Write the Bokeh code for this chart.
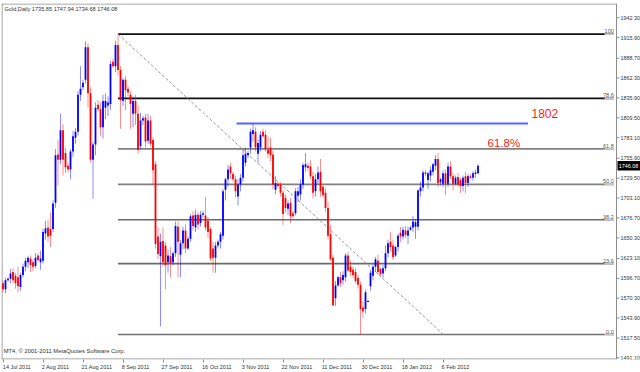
from bokeh.plotting import figure
from bokeh.models import Range1d, FixedTicker, CustomJSTickFormatter
from bokeh.core.properties import value
from bokeh.embed import file_html
from bokeh.resources import INLINE

# ---------------- data ----------------
opens = [
    1590, 1582, 1594, 1596, 1605, 1600, 1598, 1585, 1601, 1612,
    1618, 1623, 1618, 1613, 1627, 1618, 1620, 1656, 1664, 1662,
    1662, 1697, 1761, 1754, 1793, 1763, 1746, 1741, 1765, 1783,
    1791, 1840, 1850, 1860, 1903, 1842, 1754, 1774, 1827, 1821,
    1797, 1823, 1826, 1828, 1884, 1878, 1906, 1873, 1832, 1860,
    1848, 1840, 1815, 1832, 1815, 1772, 1806, 1810, 1779, 1806,
    1780, 1748, 1652, 1626, 1646, 1640, 1618, 1626, 1618, 1630,
    1665, 1628, 1643, 1660, 1636, 1649, 1680, 1664, 1681, 1670,
    1681, 1680, 1673, 1662, 1636, 1624, 1640, 1645, 1653, 1714,
    1728, 1745, 1735, 1728, 1705, 1721, 1730, 1750, 1760, 1770,
    1788, 1791, 1762, 1770, 1791, 1787, 1767, 1770, 1761, 1714,
    1722, 1721, 1710, 1703, 1689, 1697, 1683, 1683, 1706, 1708,
    1721, 1744, 1746, 1745, 1732, 1712, 1728, 1738, 1718, 1710,
    1690, 1655, 1624, 1570, 1587, 1598, 1594, 1598, 1627, 1612,
    1608, 1605, 1597, 1588, 1558, 1556, 1566, 1586, 1600, 1612,
    1620, 1609, 1603, 1610, 1630, 1645, 1640, 1627, 1638, 1657,
    1652, 1660, 1653, 1661, 1664, 1665, 1665, 1712, 1717, 1737,
    1727, 1733, 1738, 1746, 1755, 1724, 1722, 1736, 1722, 1745,
    1732, 1722, 1731, 1727, 1719, 1732, 1723, 1732, 1730, 1735,
    1735.85,
]
highs = [
    1594, 1597, 1598, 1609, 1610, 1604, 1612, 1604, 1616, 1624,
    1626, 1627, 1622, 1630, 1630, 1633, 1662, 1673, 1674, 1684,
    1700, 1768, 1780, 1815, 1801, 1770, 1750, 1768, 1792, 1796,
    1845, 1878, 1860, 1911, 1908, 1850, 1778, 1830, 1833, 1830,
    1840, 1842, 1838, 1885, 1888, 1912, 1920.6, 1878, 1862, 1865,
    1852, 1845, 1838, 1840, 1826, 1816, 1812, 1815, 1815, 1812,
    1784, 1752, 1664, 1656, 1664, 1645, 1635, 1638, 1632, 1672,
    1672, 1648, 1665, 1668, 1652, 1682, 1686, 1688, 1685, 1686,
    1686, 1705, 1678, 1665, 1645, 1645, 1648, 1658, 1715, 1730,
    1747, 1750, 1738, 1733, 1728, 1735, 1768, 1770, 1766, 1795,
    1802, 1797, 1781, 1792, 1795, 1793, 1785, 1783, 1766, 1732,
    1724, 1724, 1714, 1708, 1700, 1703, 1686, 1716, 1718, 1728,
    1750, 1763, 1750, 1753, 1738, 1735, 1745, 1755, 1720, 1716,
    1698, 1667, 1628, 1593, 1600, 1605, 1606, 1630, 1632, 1620,
    1612, 1610, 1601, 1592, 1566, 1582, 1567, 1608, 1615, 1625,
    1628, 1611, 1614, 1640, 1648, 1658, 1648, 1640, 1656, 1665,
    1665, 1666, 1665, 1666, 1679, 1675, 1715, 1725, 1740, 1740,
    1738, 1745, 1750, 1760, 1763, 1730, 1740, 1741, 1750, 1752,
    1736, 1733, 1736, 1730, 1733, 1738, 1735, 1735, 1739, 1741,
    1747.94,
]
lows = [
    1578, 1577, 1592, 1590, 1590, 1583, 1578, 1580, 1598, 1606,
    1610, 1605, 1606, 1610, 1619, 1608, 1616, 1648, 1645, 1638,
    1658, 1690, 1720, 1748, 1733, 1736, 1737, 1728, 1758, 1775,
    1786, 1832, 1846, 1855, 1823, 1750, 1702, 1760, 1818, 1785,
    1782, 1808, 1812, 1820, 1876, 1870, 1866, 1795, 1825, 1820,
    1838, 1795, 1797, 1800, 1762, 1768, 1800, 1770, 1775, 1772,
    1721, 1636, 1622, 1533, 1612, 1582, 1604, 1598, 1614, 1625,
    1598, 1598, 1635, 1630, 1634, 1645, 1660, 1658, 1662, 1665,
    1677, 1660, 1650, 1620, 1604, 1604, 1637, 1636, 1648, 1700,
    1718, 1728, 1725, 1704, 1693, 1712, 1725, 1745, 1756, 1762,
    1778, 1765, 1750, 1765, 1783, 1765, 1756, 1752, 1715, 1708,
    1717, 1705, 1667, 1684, 1681, 1670, 1677, 1680, 1698, 1700,
    1715, 1738, 1740, 1728, 1703, 1705, 1722, 1705, 1704, 1685,
    1648, 1620, 1560, 1560, 1585, 1585, 1588, 1592, 1605, 1600,
    1598, 1590, 1583, 1522, 1545, 1550, 1565, 1580, 1594, 1605,
    1601, 1600, 1597, 1606, 1624, 1632, 1621, 1625, 1632, 1645,
    1648, 1650, 1642, 1660, 1658, 1649, 1660, 1705, 1712, 1732,
    1715, 1725, 1733, 1740, 1718, 1720, 1718, 1707, 1718, 1728,
    1713, 1720, 1718, 1710, 1712, 1710, 1718, 1728, 1726, 1730,
    1734.68,
]
closes = [
    1582, 1594, 1596, 1603, 1594, 1590, 1586, 1601, 1612, 1620,
    1624, 1614, 1612, 1624, 1621, 1623, 1658, 1663, 1652, 1653,
    1696, 1760, 1754, 1793, 1754, 1744, 1741, 1765, 1785, 1791,
    1840, 1848, 1856, 1903, 1842, 1754, 1774, 1823, 1821, 1797,
    1832, 1832, 1830, 1881, 1878, 1906, 1873, 1833, 1860, 1846,
    1843, 1828, 1832, 1815, 1767, 1806, 1809, 1778, 1806, 1775,
    1740, 1642, 1629, 1645, 1618, 1614, 1627, 1617, 1630, 1666,
    1645, 1643, 1660, 1636, 1649, 1679, 1666, 1681, 1668, 1681,
    1683, 1664, 1658, 1623, 1624, 1640, 1645, 1655, 1712, 1728,
    1741, 1736, 1728, 1712, 1721, 1730, 1760, 1762, 1763, 1791,
    1793, 1770, 1776, 1787, 1785, 1768, 1762, 1760, 1721, 1723,
    1719, 1710, 1682, 1690, 1696, 1679, 1679, 1712, 1712, 1721,
    1747, 1748, 1743, 1732, 1710, 1728, 1737, 1712, 1707, 1690,
    1653, 1622, 1561, 1587, 1598, 1590, 1601, 1627, 1607, 1605,
    1601, 1593, 1588, 1556, 1553, 1578, 1566, 1604, 1612, 1622,
    1605, 1602, 1610, 1630, 1643, 1638, 1625, 1638, 1653, 1652,
    1661, 1654, 1660, 1664, 1672, 1671, 1713, 1717, 1737, 1735,
    1736, 1740, 1748, 1755, 1723, 1728, 1736, 1722, 1745, 1732,
    1722, 1730, 1721, 1719, 1730, 1723, 1732, 1730, 1736, 1737,
    1746.08,
]

date_labels = ["14 Jul 2011", "2 Aug 2011", "21 Aug 2011", "8 Sep 2011",
               "27 Sep 2011", "16 Oct 2011", "3 Nov 2011", "22 Nov 2011",
               "11 Dec 2011", "30 Dec 2011", "18 Jan 2012", "6 Feb 2012"]
date_bars = [0, 16, 32, 48, 64, 80, 96, 112, 128, 144, 160, 176]

price_ticks = [1491.10, 1517.50, 1543.90, 1570.30, 1596.70, 1623.10, 1650.30,
               1676.70, 1703.10, 1729.50, 1755.90, 1783.10, 1809.50, 1835.90,
               1862.30, 1888.70, 1915.90, 1942.30]

fib_ratios = [0.0, 0.236, 0.382, 0.5, 0.618, 0.786, 1.0]
fib_texts = ["0.0", "23.6", "38.2", "50.0", "61.8", "78.6", "100"]
fib_low, fib_high = 1522.0, 1920.6
fib_start_bar, fib_low_bar = 46, 176.2
resistance = 1802.0

# ---------------- figure ----------------
FONT = "Liberation Sans"
Y0, Y1 = 1488.9, 1961.2          # visible price window
XL, XAX, XR = -0.6, 245.4, 255.0  # left edge, price-scale line, right edge (bars)
PX = 372 - 14                     # frame height in px
UPP = (Y1 - Y0) / PX              # price units per pixel

p = figure(width=640, height=372, output_backend="svg", toolbar_location=None,
           x_range=Range1d(XL, XR), y_range=Range1d(Y0, Y1),
           y_axis_location=None,
           min_border_left=1, min_border_right=0,
           min_border_top=3, min_border_bottom=11)
p.background_fill_color = "white"
p.border_fill_color = "white"
p.outline_line_color = None
p.grid.visible = False

centers = [b + (len(t) * 2.7) / 2 / 2.5 - 0.4 for b, t in zip(date_bars, date_labels)]
xa = p.xaxis[0]
xa.ticker = FixedTicker(ticks=centers, minor_ticks=date_bars)
xa.formatter = CustomJSTickFormatter(args=dict(labels=date_labels),
                                     code="return labels[index] || '';")
xa.major_label_text_font = FONT
xa.major_label_text_font_size = "5.5px"
xa.major_label_text_color = "#333333"
xa.major_tick_out = 0
xa.major_tick_in = 0
xa.minor_tick_out = 3
xa.minor_tick_in = 0
xa.minor_tick_line_color = "#8c8c8c"
xa.major_label_standoff = 1
xa.axis_line_color = None

# chart frame (left, top, bottom) and price scale line
frame_col = "#8c8c8c"
p.segment(x0=[XL + 0.2, XL, XL, XAX], y0=[Y0, Y1 - 0.5 * UPP, Y0 + 0.5 * UPP, Y0],
          x1=[XL + 0.2, XAX, XAX, XAX], y1=[Y1, Y1 - 0.5 * UPP, Y0 + 0.5 * UPP, Y1],
          line_color=frame_col, line_width=1)

# price scale ticks and labels
p.segment(x0=[XAX] * len(price_ticks), y0=price_ticks,
          x1=[XAX + 1.2] * len(price_ticks), y1=price_ticks,
          line_color=frame_col, line_width=1)
p.text(x=[XAX + 1.6] * len(price_ticks), y=price_ticks,
       text=["%.2f" % t for t in price_ticks], text_baseline="middle",
       text_font=value(FONT), text_font_size="5.4px", text_color="#333333")

# ---------------- fibonacci & drawing objects ----------------
levels = [fib_low + r * (fib_high - fib_low) for r in fib_ratios]
fib_cols = ["#707070", "#6a6a6a", "#6a6a6a", "#808080", "#808080", "#111111", "#111111"]
p.segment(x0=[fib_start_bar] * 7, y0=levels, x1=[XAX - 1.0] * 7, y1=levels,
          line_color=fib_cols, line_width=1.6)
p.segment(x0=[XAX - 4.8] * 7, y0=levels, x1=[XAX - 1.0] * 7, y1=levels,
          line_color="#c8c8c8", line_width=1.6)
p.text(x=[XAX - 1.1] * 7, y=levels, text=fib_texts, text_align="right",
       text_baseline="bottom", text_font=value(FONT), text_font_size="5.5px",
       text_color="#555555", y_offset=-1)

p.line([fib_start_bar, fib_low_bar], [fib_high, fib_low], line_color="#9a9a9a",
       line_dash="3 2", line_width=1)

p.segment(x0=[93.4], y0=[resistance], x1=[210.0], y1=[resistance],
          line_color="#5565ff", line_width=1.8)
p.text(x=[211.4], y=[resistance + 13.6], text=["%d" % resistance],
       text_baseline="middle", text_font=value(FONT), text_font_size="12px",
       text_color="#ff1a1a")
p.text(x=[193.8], y=[levels[4] + 8], text=["61.8%"],
       text_baseline="middle", text_font=value(FONT), text_font_size="11.5px",
       text_color="#ff1a1a")

# ---------------- candles ----------------
idx = list(range(len(closes)))
cols = ["#0000ff" if c >= o else "#ff0000" for o, c in zip(opens, closes)]
tops, bots = [], []
for o, c in zip(opens, closes):
    t, b = max(o, c), min(o, c)
    if t - b < 1.4:
        m = (t + b) / 2
        t, b = m + 0.7, m - 0.7
    tops.append(t)
    bots.append(b)

p.segment(x0=idx, y0=lows, x1=idx, y1=highs, line_color=cols, line_alpha=0.45,
          line_width=1)
p.vbar(x=idx, width=0.72, top=tops, bottom=bots, fill_color=cols, line_color=None)

# ---------------- texts ----------------
header = "Gold,Daily  %.2f %.2f %.2f %.2f" % (opens[-1], highs[-1], lows[-1], closes[-1])
p.text(x=[0.6], y=[1954.2], text=[header], text_baseline="middle",
       text_font=value(FONT), text_font_size="5.6px", text_color="#333333")
p.text(x=[0.3], y=[1500.3], text=["MT4, \u00a9 2001-2011 MetaQuotes Software Corp."],
       text_baseline="middle", text_font=value(FONT), text_font_size="5.8px",
       text_color="#333333")

# current price tag on the price scale
last = closes[-1]
p.quad(left=[XAX + 0.4], right=[XR], top=[last + 4.8 * UPP], bottom=[last - 4.8 * UPP],
       fill_color="black", line_color=None)
p.text(x=[XAX + 0.9], y=[last], text=["%.2f" % last], text_baseline="middle",
       text_font=value(FONT), text_font_size="5.4px", text_color="white")

open("out.html", "w").write(file_html(p, INLINE))
